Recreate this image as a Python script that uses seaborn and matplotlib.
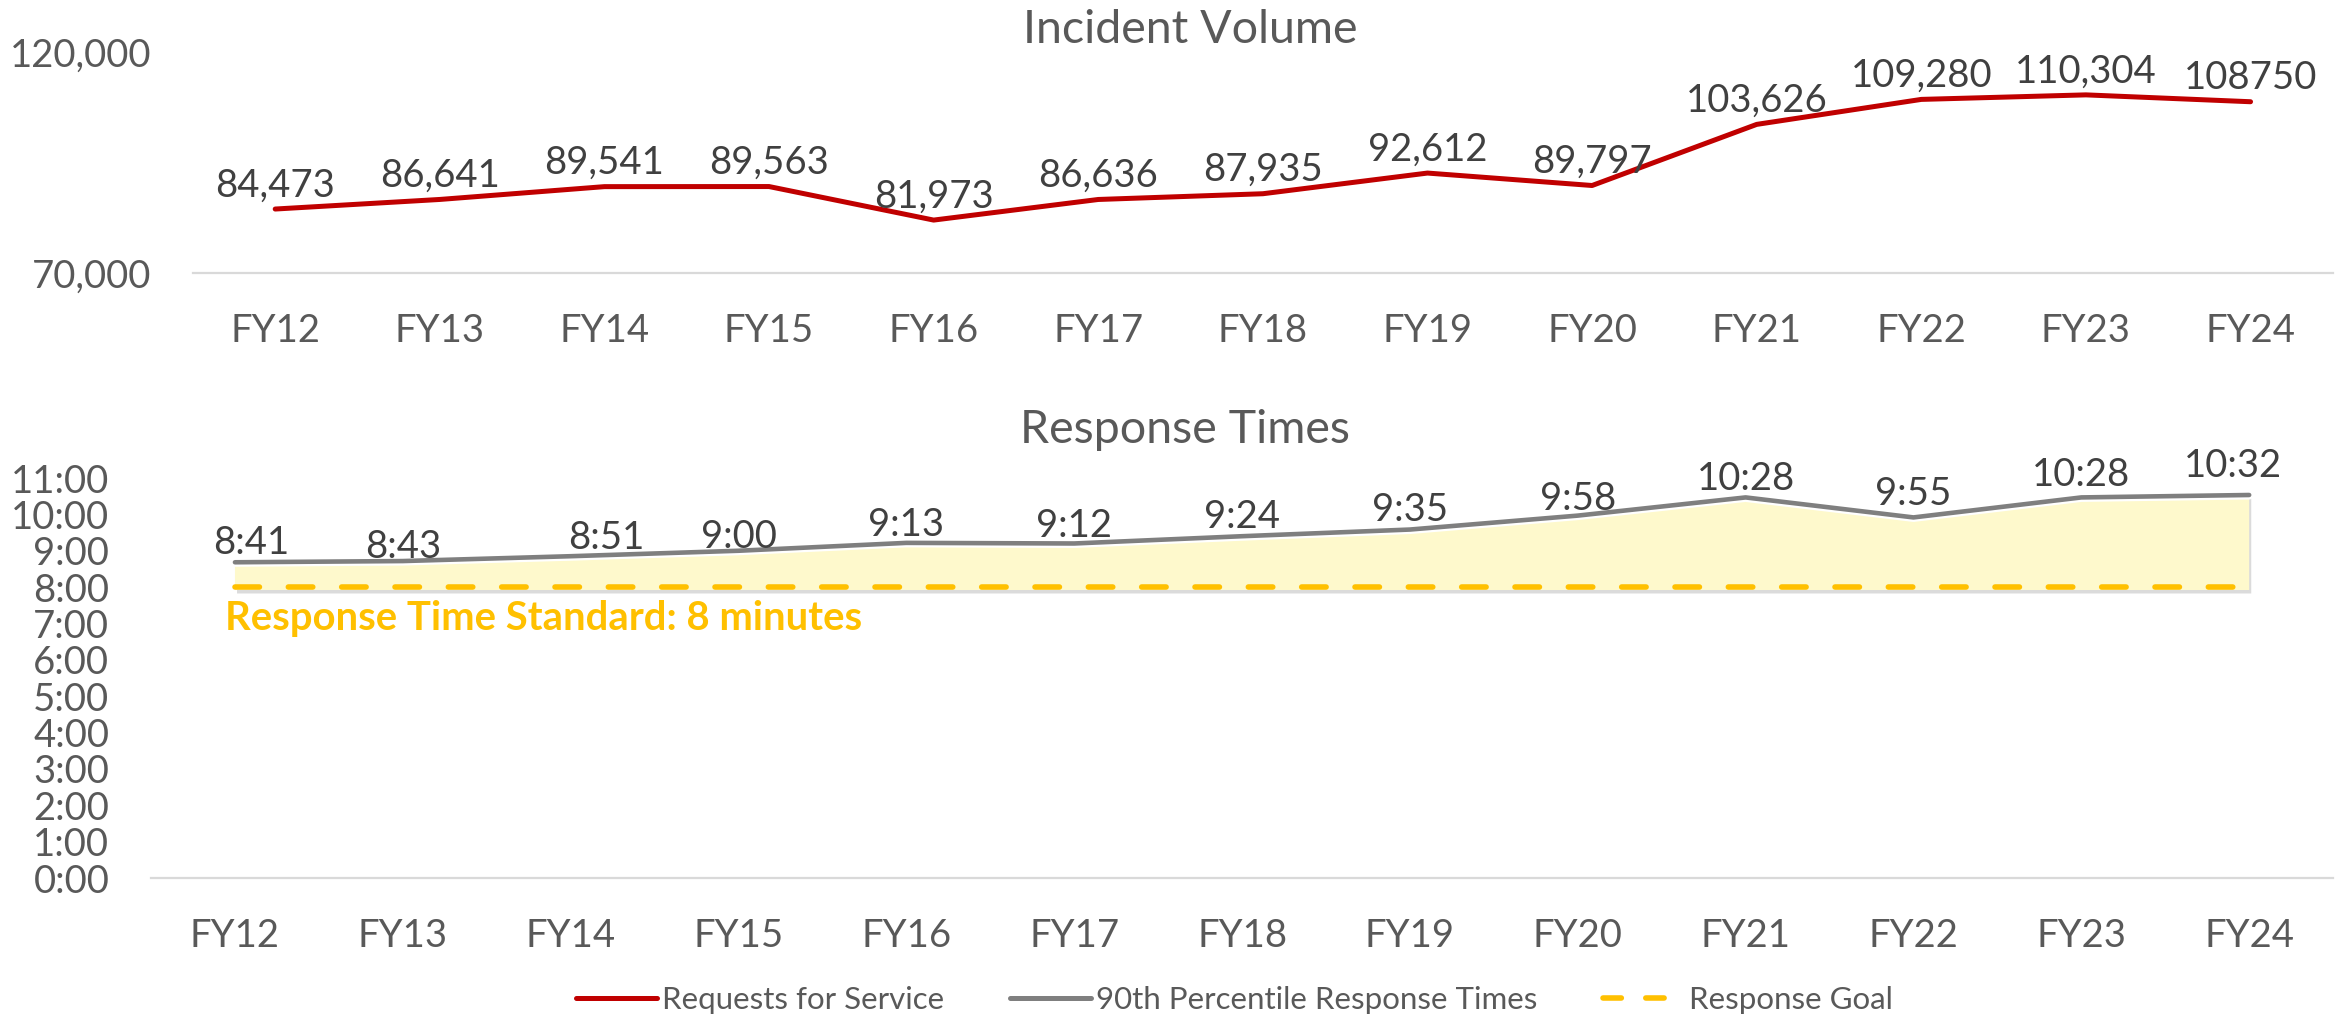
import numpy as np
import pandas as pd
import matplotlib
matplotlib.use("Agg")
import matplotlib.pyplot as plt
import matplotlib.patheffects as pe
from matplotlib.lines import Line2D
import seaborn as sns

# ---------------- data ----------------
years = ["FY12", "FY13", "FY14", "FY15", "FY16", "FY17", "FY18",
         "FY19", "FY20", "FY21", "FY22", "FY23", "FY24"]
requests = [84473, 86641, 89541, 89563, 81973, 86636, 87935,
            92612, 89797, 103626, 109280, 110304, 108750]
request_labels = ["84,473", "86,641", "89,541", "89,563", "81,973", "86,636",
                  "87,935", "92,612", "89,797", "103,626", "109,280",
                  "110,304", "108750"]
response_times = ["8:41", "8:43", "8:51", "9:00", "9:13", "9:12", "9:24",
                  "9:35", "9:58", "10:28", "9:55", "10:28", "10:32"]
response_goal = ["8:00"] * 13
volume_ticks = [70000, 120000]
time_ticks = list(range(0, 12))
goal_text = "Response Time Standard: 8 minutes"
legend_labels = ["Requests for Service", "90th Percentile Response Times",
                 "Response Goal"]

# small label nudges (points) reproducing the original's manual placement
time_label_dx = [12, 0, 26, 0, 0, 0, 0, 0, 0, 0, 0, 0, -12]
time_label_dy = [6, 2, 5, 2, 5, 5, 6, 6, 4, 5, 9, 8, 13]


def to_min(s):
    m, sec = s.split(":")
    return int(m) + int(sec) / 60.0


resp = [to_min(s) for s in response_times]
goal = [to_min(s) for s in response_goal]

df_vol = pd.DataFrame({"x": np.arange(len(years)), "v": requests})
df_resp = pd.DataFrame({"x": np.arange(len(years)), "v": resp})
df_goal = pd.DataFrame({"x": np.arange(len(years)), "v": goal})

# ---------------- style ----------------
sns.set_theme(style="white")
plt.rcParams["font.family"] = ["Lato", "DejaVu Sans"]

RED = "#C00000"
GRAY = "#7F7F7F"
GOLD = "#FFC000"
FILL = "#FEF9CC"
TICK = "#595959"
LABEL = "#404040"
AXLINE = "#D9D9D9"

fig = plt.figure(figsize=(23.38, 10.16), dpi=100)
ax1 = fig.add_axes([0.0825, 0.7313, 0.9153, 0.2175])
ax2 = fig.add_axes([0.0646, 0.1358, 0.9333, 0.3937])

# ---------------- top: incident volume ----------------
sns.lineplot(data=df_vol, x="x", y="v", ax=ax1, color=RED, linewidth=3.6,
             solid_capstyle="round", solid_joinstyle="round", legend=False)
ax1.set_xlim(-0.5, 12.5)
ax1.set_ylim(70000, 120000)
ax1.set_xticks(range(len(years)))
ax1.set_xticklabels(years)
ax1.set_yticks(volume_ticks)
ax1.set_yticklabels([f"{v:,}" for v in volume_ticks])
for i, (v, s) in enumerate(zip(requests, request_labels)):
    ax1.annotate(s, (i, v), xytext=(0, 9), textcoords="offset points",
                 ha="center", va="baseline", fontsize=27.5, color=LABEL,
                 annotation_clip=False)

# ---------------- bottom: response times ----------------
ax2.fill_between(df_resp["x"], 7.92, df_resp["v"], color=FILL, linewidth=0,
                 zorder=1,
                 path_effects=[pe.withSimplePatchShadow(offset=(1.5, -2.5),
                                                        shadow_rgbFace="#9a9a9a",
                                                        alpha=0.35)])
sns.lineplot(data=df_goal, x="x", y="v", ax=ax2, color=GOLD, linewidth=4,
             dashes=False, legend=False, zorder=3)
ax2.lines[-1].set_linestyle((0, (4.4, 5.2)))
ax2.lines[-1].set_dash_capstyle("round")
sns.lineplot(data=df_resp, x="x", y="v", ax=ax2, color=GRAY, linewidth=3.3,
             solid_capstyle="round", solid_joinstyle="round", legend=False,
             zorder=4)
ax2.lines[-1].set_path_effects([pe.Stroke(linewidth=6.5, foreground="white"),
                                pe.Normal()])
ax2.set_xlim(-0.5, 12.5)
ax2.set_ylim(0, 11)
ax2.set_xticks(range(len(years)))
ax2.set_xticklabels(years)
ax2.set_yticks(time_ticks)
ax2.set_yticklabels([f"{m}:00" for m in time_ticks])
for i, (v, s) in enumerate(zip(resp, response_times)):
    ax2.annotate(s, (i, v), xytext=(time_label_dx[i], time_label_dy[i]),
                 textcoords="offset points", ha="center", va="baseline",
                 fontsize=27.5, color=LABEL, annotation_clip=False, zorder=5)

# ---------------- axes cosmetics ----------------
for ax in (ax1, ax2):
    ax.set_xlabel("")
    ax.set_ylabel("")
    for side in ("top", "right", "left"):
        ax.spines[side].set_visible(False)
    ax.spines["bottom"].set_color(AXLINE)
    ax.spines["bottom"].set_linewidth(1.6)
    ax.tick_params(axis="both", length=0, labelsize=27.5, labelcolor=TICK)
    ax.tick_params(axis="x", pad=29)
    ax.tick_params(axis="y", pad=30)
    ax.grid(False)
    ax.set_facecolor("none")

# titles
fig.text(0.509, 1 - 43 / 1016, "Incident Volume", ha="center", va="baseline",
         fontsize=33.5, color=TICK)
fig.text(0.507, 1 - 443 / 1016, "Response Times", ha="center", va="baseline",
         fontsize=33.5, color=TICK)

# standard annotation
fig.text(225 / 2338, 1 - 630 / 1016, goal_text, ha="left", va="baseline",
         fontsize=28.8, fontweight="bold", color=GOLD)

# legend
handles = [
    Line2D([0], [0], color=RED, lw=3.6),
    Line2D([0], [0], color=GRAY, lw=3.6),
    Line2D([0], [0], color=GOLD, lw=4, linestyle=(0, (3.3, 4.4)),
           dash_capstyle="round"),
]
leg = fig.legend(handles, legend_labels, loc="center",
                 bbox_to_anchor=(0.528, 1 - 1000 / 1016), ncol=3,
                 frameon=False, fontsize=22.5, handlelength=2.6,
                 handletextpad=0.15, columnspacing=2.1)
for t in leg.get_texts():
    t.set_color(TICK)

fig.savefig("out.png", dpi=100, facecolor="white")
